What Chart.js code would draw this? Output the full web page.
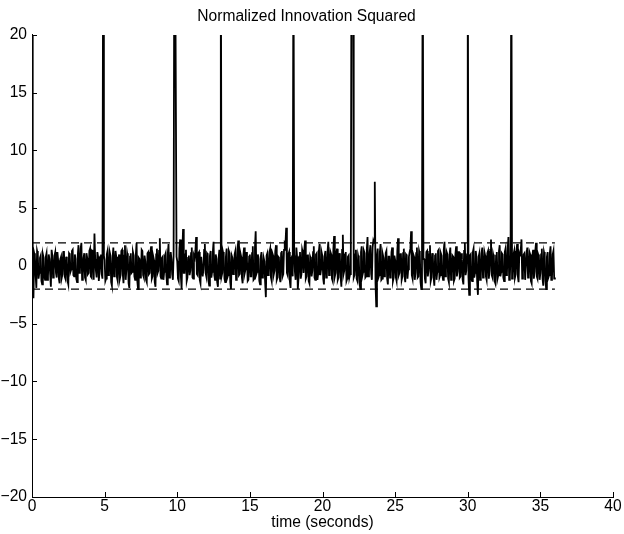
<!DOCTYPE html>
<html>
<head>
<meta charset="utf-8">
<script src="https://cdn.jsdelivr.net/npm/chart.js@4/dist/chart.umd.min.js"></script>
<style>
  html, body { margin: 0; padding: 0; background: #fff; }
  canvas { display: block; }
</style>
</head>
<body>
<canvas id="c" width="624" height="534"></canvas>
<script>
// Sample spacing of the recorded signal (seconds)
const sampleStep = 0.1;
// Normalized innovation squared values, one per 0.1 s (t = 0 .. 36)
const nisValues = [
  30, -2.8, 0.8, -1.9, 1.0, -0.6, 0.9, -1.6, 0.7, -1.2,
  1.1, -0.9, 0.6, -1.8, 0.9, -0.4, 1.2, -1.0, 0.5, -1.5,
  0.8, -0.7, 1.3, -1.1, 0.4, -1.6, 1.0, -0.3, 1.4, -0.9,
  0.6, -1.4, 1.8, -0.5, 2.0, -0.8, 1.1, -1.2, 0.7, -0.6,
  1.5, -1.0, 0.9, 2.8, -0.4, 1.2, -1.3, 0.8, -0.7, 30,
  0.5, -1.1, 1.3, -0.6, 0.9, -1.7, 1.6, -0.2, 0.8, -1.3,
  1.0, -0.8, 1.4, -1.5, 1.8, -0.3, 0.7, -1.9, 1.1, -0.5,
  0.9, -1.2, 2.0, -2.0, 0.6, -0.7, 1.3, -1.0, 0.4, -1.4,
  1.2, -0.6, 1.7, -0.9, 0.5, -1.8, 1.5, -0.4, 2.4, -1.1,
  0.8, -0.5, 1.1, -1.6, 1.9, -0.7, 0.6, -1.2, 30, 30,
  0.4, -1.3, 2.3, -2.0, 3.2, -0.6, 1.4, -1.0, 0.9, -0.4,
  1.6, -1.1, 0.7, 2.5, -0.8, 1.2, -1.5, 0.8, -0.3, 1.9,
  -0.9, 1.0, -1.7, 1.3, -0.5, 2.1, -1.2, 0.6, -1.8, 1.4,
  30, -0.6, 0.9, -1.4, 1.5, -0.8, 1.1, -2.0, 0.7, -0.4,
  1.3, -1.0, 2.2, -0.7, 0.8, -1.5, 1.6, -0.3, 0.5, -1.2,
  1.0, -0.9, 1.7, -1.1, 3.0, -0.5, 0.6, -1.6, 1.2, -0.8,
  0.4, -2.7, 1.1, -0.6, 1.5, -1.3, 0.9, -0.4, 1.8, -1.0,
  0.7, -1.4, 1.3, -0.7, 2.0, 3.3, -0.8, 1.2, -1.9, 0.9,
  30, -0.5, 1.6, -2.0, 0.8, -1.1, 1.4, -0.6, 2.2, -0.9,
  1.0, -1.5, 0.6, -0.4, 1.7, -1.2, 1.1, -0.7, 1.9, -0.3,
  0.8, -1.6, 1.3, -0.9, 2.1, -0.5, 1.0, -1.3, 2.6, -0.6,
  1.5, -1.0, 0.7, -1.8, 2.7, -0.4, 1.2, -1.1, 0.9, -0.7,
  30, 30, -0.8, 1.4, -1.3, 0.6, -2.0, 1.7, -0.5, 1.1,
  -0.9, 2.5, -0.6, 1.8, -1.2, 2.2, 7.3, -3.5, 1.5, -0.8,
  1.9, -1.1, 0.7, -0.4, 1.3, -1.6, 0.8, -0.7, 1.6, -1.0,
  0.5, -1.3, 2.4, -0.6, 1.1, -0.9, 1.5, -1.4, 0.9, -0.3,
  1.2, 3.0, -1.1, 0.8, -0.6, 1.6, -0.9, 1.0, -2.0, 30,
  0.6, -1.5, 1.3, -0.4, 1.8, -1.0, 0.7, -1.7, 1.1, -0.5,
  1.4, -0.8, 0.9, -1.2, 2.1, -0.3, 1.0, -1.4, 1.6, -0.7,
  0.8, -1.1, 1.7, -0.5, 1.2, -0.9, 0.6, -1.6, 2.0, -0.4,
  30, -2.5, 1.0, -1.3, 1.5, -0.6, 0.8, -2.5, 1.1, -0.9,
  1.6, -0.7, 0.9, -1.2, 1.3, -0.4, 2.3, -1.0, 0.7, -1.5,
  1.2, -0.8, 1.8, -0.5, 1.0, -1.3, 1.5, -0.6, 2.5, -0.9,
  30, -1.0, 1.3, -0.7, 1.9, -1.4, 0.9, 2.3, -0.6, 1.1,
  -1.2, 1.6, -0.8, 1.0, -1.5, 1.4, -0.5, 2.0, -1.1, 0.8,
  -0.6, 1.5, -1.7, 0.9, -2.0, 1.2, -0.8, 1.7, -1.0, 1.3,
  -1.0
];
// In-between samples, at t = 0.05, 0.15, ... 35.95
const nisMidValues = [
  -1.5, 1.1, -0.8, 1.3, -1.1, 0.7, -1.3, 1.0, -0.9, 0.8,
  -1.2, 1.0, -0.7, 1.4, -1.0, 0.9, -0.6, 1.2, -1.1, 0.6,
  -1.0, 1.2, -0.9, 0.8, -1.3, 1.1, -0.5, 1.3, -0.8, 1.0,
  -1.1, 0.9, -0.6, 1.5, -1.2, 0.7, -1.0, 1.1, -0.7, 1.3,
  -0.9, 1.4, -1.2, 0.6, -1.0, 0.8, -0.5, 1.0, -1.1, 0.9,
  -1.3, 1.0, -0.8, 1.2, -1.4, 0.7, -0.9, 1.3, -1.0, 0.6,
  -1.1, 1.3, -0.7, 0.9, -1.2, 1.1, -1.5, 0.8, -0.6, 1.2,
  -0.9, 1.0, -1.3, 0.7, -1.0, 1.4, -0.8, 0.9, -1.2, 1.1,
  -0.7, 1.2, -1.1, 0.8, -1.4, 1.0, -0.6, 1.3, -0.9, 0.7,
  -1.2, 0.9, -0.8, 1.1, -1.0, 1.2, -0.7, 1.0, 30, 0.8,
  -1.1, 1.5, -0.9, 1.2, -0.6, 1.0, -1.3, 0.7, -0.8, 1.1,
  -1.0, 0.9, 1.3, -0.7, 1.1, -1.2, 0.8, -0.9, 1.4, -0.6,
  1.1, -1.3, 0.9, -1.0, 1.2, -0.8, 1.0, -1.4, 0.7, -1.1,
  -0.9, 1.2, -1.1, 0.8, -1.0, 1.3, -1.4, 0.9, -0.7, 1.0,
  -1.2, 1.4, -0.8, 1.1, -1.0, 0.9, -0.6, 1.2, -1.3, 0.8,
  -0.9, 1.1, -1.2, 1.6, -0.7, 1.0, -1.3, 0.8, -1.0, 0.7,
  -1.4, 0.9, -0.8, 1.2, -1.0, 1.1, -0.7, 1.3, -1.2, 0.8,
  -1.0, 1.1, -0.9, 1.4, 1.9, -0.6, 1.0, -1.3, 0.7, -0.9,
  0.9, -1.2, 0.8, -1.0, 1.2, -0.7, 1.1, 1.4, -1.1, 0.9,
  -1.3, 0.8, -0.9, 1.2, -1.0, 1.0, -1.2, 1.3, -0.8, 1.1,
  -1.1, 0.9, -1.0, 1.3, -0.8, 1.2, -1.1, 1.5, -0.9, 1.0,
  -1.2, 1.1, -1.0, 1.4, -0.7, 1.0, -1.3, 0.8, -1.0, 0.9,
  30, -1.0, 1.0, -1.1, 0.9, -1.4, 1.2, -0.8, 1.3, -1.0,
  1.4, -0.9, 1.2, -0.7, 1.6, 2.0, -1.5, 0.9, -1.0, 1.2,
  -1.2, 1.0, -0.9, 1.1, -1.1, 0.8, -1.0, 1.2, -1.3, 0.9,
  -1.0, 1.3, -0.8, 1.0, -1.2, 1.1, -0.9, 1.0, -1.1, 0.8,
  1.5, -0.8, 1.0, -1.2, 1.1, -1.0, 1.3, -1.4, 0.8, 0.6,
  -1.1, 1.2, -0.9, 1.0, -1.3, 1.1, -1.0, 0.9, -1.2, 1.3,
  -1.0, 1.1, -0.8, 1.4, -0.9, 1.2, -1.1, 1.0, -1.2, 0.9,
  -1.3, 1.0, -0.9, 1.2, -1.0, 1.1, -1.2, 1.3, -0.8, 1.0,
  -1.0, 0.9, -1.1, 1.2, -1.0, 1.3, -1.4, 0.8, -1.2, 1.1,
  -1.0, 1.2, -0.9, 1.1, -1.1, 1.4, -0.8, 1.0, -1.3, 0.9,
  -1.1, 1.3, -0.9, 1.1, -1.0, 1.2, -0.8, 1.5, -1.2, 1.0,
  -1.1, 1.0, -1.0, 1.3, -0.9, 1.1, 1.4, -1.1, 1.0, -1.2,
  1.1, -1.0, 1.2, -1.3, 0.9, -1.1, 1.3, -0.9, 1.0, -1.2,
  1.0, -1.1, 1.2, -1.3, 0.8, -1.0, 1.1, -1.2, 1.0, -1.1
];
// Confidence bounds (dashed)
const boundTimes = [0, 36];
const upperBound = [2, 2];
const lowerBound = [-2, -2];
// Axis ticks
const xTicks = [0, 5, 10, 15, 20, 25, 30, 35, 40];
const yTicks = [-20, -15, -10, -5, 0, 5, 10, 15, 20];

const nisPoints = [];
nisValues.forEach((v, i) => {
  nisPoints.push({ x: +(i * sampleStep).toFixed(3), y: v });
  if (i < nisMidValues.length) {
    nisPoints.push({ x: +((i + 0.5) * sampleStep).toFixed(3), y: nisMidValues[i] });
  }
});
const upperPoints = boundTimes.map((t, i) => ({ x: t, y: upperBound[i] }));
const lowerPoints = boundTimes.map((t, i) => ({ x: t, y: lowerBound[i] }));

const FONT = 'Liberation Sans, Arial, Helvetica, sans-serif';
const FS = 15.6;

const inwardTicks = {
  id: 'inwardTicks',
  afterDatasetsDraw(chart) {
    const { ctx, chartArea, scales } = chart;
    ctx.save();
    ctx.strokeStyle = '#000';
    ctx.lineWidth = 1;
    ctx.beginPath();
    xTicks.forEach(v => {
      const px = Math.round(scales.x.getPixelForValue(v)) + 0.5;
      ctx.moveTo(px, chartArea.bottom);
      ctx.lineTo(px, chartArea.bottom - 5);
    });
    yTicks.forEach(v => {
      const py = Math.round(scales.y.getPixelForValue(v)) + 0.5;
      ctx.moveTo(chartArea.left, py);
      ctx.lineTo(chartArea.left + 5, py);
    });
    ctx.stroke();
    ctx.restore();
  }
};

new Chart(document.getElementById('c'), {
  type: 'line',
  data: {
    datasets: [
      { data: nisPoints, borderColor: '#000', borderWidth: 1.8, pointRadius: 0, tension: 0, fill: false },
      { data: upperPoints, borderColor: '#000', borderWidth: 1.3, borderDash: [8, 5], pointRadius: 0, fill: false },
      { data: lowerPoints, borderColor: '#000', borderWidth: 1.3, borderDash: [8, 5], pointRadius: 0, fill: false }
    ]
  },
  options: {
    responsive: false,
    animation: false,
    devicePixelRatio: 1,
    layout: { padding: { left: 0, right: 11, top: 0, bottom: 0 } },
    plugins: {
      legend: { display: false },
      tooltip: { enabled: false },
      title: {
        display: true,
        text: 'Normalized Innovation Squared',
        color: '#000',
        font: { family: FONT, size: FS, weight: 'normal', lineHeight: 1.15 },
        padding: { top: 8, bottom: 9 }
      }
    },
    scales: {
      x: {
        type: 'linear',
        min: 0, max: 40,
        afterBuildTicks: s => { s.ticks = xTicks.map(v => ({ value: v })); },
        afterFit: s => { s.height = 37; },
        grid: { display: false, drawTicks: false },
        border: { display: true, color: '#000', width: 1 },
        ticks: { color: '#000', padding: 1, maxRotation: 0, font: { family: FONT, size: FS, lineHeight: 1.15 } },
        title: { display: true, text: 'time (seconds)', color: '#000', padding: { top: 0, bottom: 2 }, font: { family: FONT, size: FS, lineHeight: 1.15 } }
      },
      y: {
        type: 'linear',
        min: -20, max: 20,
        afterBuildTicks: s => { s.ticks = yTicks.map(v => ({ value: v })); },
        afterFit: s => { s.width = 32; },
        grid: { display: false, drawTicks: false },
        border: { display: true, color: '#000', width: 1 },
        ticks: { color: '#000', padding: 5, font: { family: FONT, size: FS },
                 callback: v => (v < 0 ? '\u2212' + Math.abs(v) : String(v)) }
      }
    }
  },
  plugins: [inwardTicks]
});
</script>
</body>
</html>
